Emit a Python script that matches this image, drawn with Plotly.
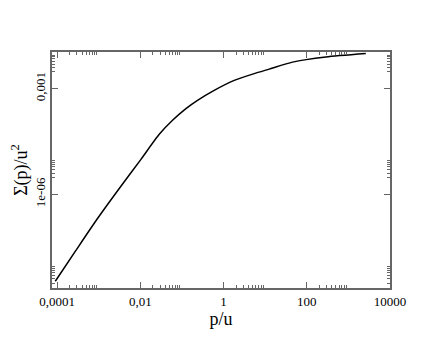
import plotly.graph_objects as go

# p/u and Sigma(p)/u^2
p_over_u = [9.1e-5, 2.82e-4, 8.79e-4, 3.13e-3, 0.0104, 0.0286, 0.0596, 0.125,
            0.2377, 0.598, 1.81, 5.46, 12.5, 45.4, 288, 2624]
sigma = [3.40e-9, 2.51e-8, 1.83e-7, 1.46e-6, 9.84e-6, 5.05e-5, 1.26e-4,
         2.71e-4, 4.66e-4, 8.95e-4, 1.72e-3, 2.67e-3, 3.58e-3, 5.65e-3,
         7.89e-3, 9.86e-3]

x_ticks = [1e-4, 1e-2, 1, 100, 10000]
x_ticktext = ['0,0001', '0,01', '1', '100', '10000']
y_ticks = [1e-6, 1e-3]
y_ticktext = ['1e-06', '0,001']

x_minor = [k * d for d in (1e-4, 1e-2, 1, 100) for k in range(2, 10)]
y_minor = [k * d for d in (1e-9, 1e-6, 1e-3) for k in range(3, 10)]

frame = '#666666'
font = 'Liberation Serif, Times New Roman, serif'

fig = go.Figure()
fig.add_trace(go.Scatter(x=p_over_u, y=sigma, mode='lines',
                         line=dict(color='black', width=1.5, shape='spline',
                                   smoothing=0.6),
                         showlegend=False))

# page body adds 8px, so margins are 8px less than the measured frame
fig.update_layout(
    width=440, height=340,
    margin=dict(l=44, r=58, t=44, b=60),
    plot_bgcolor='white', paper_bgcolor='white',
    font=dict(family=font, color='black'),
)
fig.update_xaxes(
    type='log', range=[-4.12, 4.0], automargin=False,
    tickmode='array', tickvals=x_ticks, ticktext=x_ticktext,
    ticks='inside', ticklen=6, tickwidth=1, tickcolor=frame,
    minor=dict(tickmode='array', tickvals=x_minor, ticks='inside',
               ticklen=3, tickwidth=1, tickcolor=frame),
    showline=True, linecolor=frame, linewidth=2, mirror='ticks',
    showgrid=False, zeroline=False,
    tickfont=dict(family=font, size=13),
    title=dict(text='p/u', font=dict(family=font, size=18), standoff=4),
)
fig.update_yaxes(
    type='log', range=[-8.66, -1.96], automargin=False,
    tickmode='array', tickvals=y_ticks, ticktext=y_ticktext, tickangle=-90,
    ticks='inside', ticklen=6, tickwidth=1, tickcolor=frame,
    minor=dict(tickmode='array', tickvals=y_minor, ticks='inside',
               ticklen=3, tickwidth=1, tickcolor=frame),
    showline=True, linecolor=frame, linewidth=2, mirror='ticks',
    showgrid=False, zeroline=False,
    tickfont=dict(family=font, size=13),
    title=dict(text='Σ(p)/u<sup>2</sup>', font=dict(family=font, size=18),
               standoff=2),
)

fig.write_html('out.html')
